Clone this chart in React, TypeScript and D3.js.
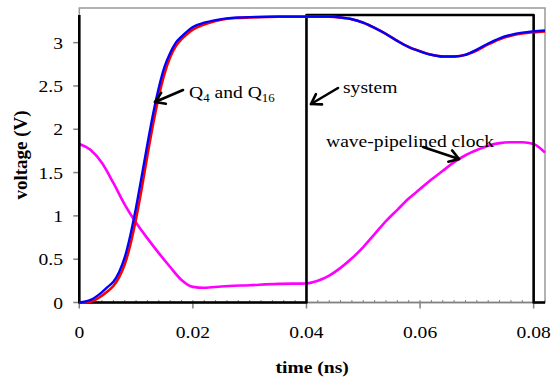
import React from "react";
import * as d3 from "d3";

const tQ = [0, 0.002, 0.004, 0.005, 0.006, 0.007, 0.008, 0.009, 0.010, 0.011, 0.012, 0.013, 0.014, 0.015, 0.016, 0.017, 0.018, 0.019, 0.020, 0.022, 0.024, 0.026, 0.028, 0.030, 0.035, 0.040, 0.044, 0.046, 0.048, 0.050, 0.052, 0.054, 0.056, 0.058, 0.060, 0.062, 0.064, 0.066, 0.068, 0.070, 0.072, 0.074, 0.076, 0.078, 0.080, 0.082];
const q16 = [0, 0.03, 0.12, 0.18, 0.24, 0.35, 0.52, 0.78, 1.10, 1.46, 1.83, 2.18, 2.48, 2.72, 2.88, 3.00, 3.07, 3.13, 3.18, 3.23, 3.26, 3.28, 3.29, 3.295, 3.30, 3.30, 3.30, 3.29, 3.27, 3.23, 3.17, 3.10, 3.02, 2.95, 2.90, 2.86, 2.84, 2.84, 2.86, 2.92, 2.99, 3.05, 3.09, 3.115, 3.13, 3.14];
const q4 = [0, 0.01, 0.08, 0.13, 0.19, 0.29, 0.44, 0.67, 0.97, 1.32, 1.70, 2.06, 2.38, 2.64, 2.83, 2.96, 3.04, 3.10, 3.15, 3.21, 3.25, 3.275, 3.285, 3.29, 3.30, 3.30, 3.30, 3.29, 3.27, 3.23, 3.17, 3.10, 3.02, 2.95, 2.90, 2.86, 2.84, 2.84, 2.86, 2.91, 2.98, 3.04, 3.08, 3.105, 3.12, 3.13];

const tClk = [0, 0.002, 0.004, 0.006, 0.008, 0.010, 0.012, 0.014, 0.016, 0.018, 0.020, 0.022, 0.025, 0.030, 0.035, 0.040, 0.042, 0.044, 0.046, 0.048, 0.050, 0.052, 0.054, 0.056, 0.058, 0.060, 0.062, 0.064, 0.066, 0.068, 0.070, 0.072, 0.074, 0.076, 0.078, 0.080, 0.081, 0.082];
const clk = [1.83, 1.76, 1.61, 1.38, 1.13, 0.92, 0.74, 0.57, 0.41, 0.26, 0.18, 0.17, 0.185, 0.20, 0.215, 0.22, 0.25, 0.31, 0.40, 0.51, 0.64, 0.79, 0.94, 1.07, 1.20, 1.31, 1.42, 1.52, 1.62, 1.70, 1.76, 1.81, 1.84, 1.85, 1.85, 1.83, 1.79, 1.73];

const tSys = [0, 0, 0.04, 0.04, 0.08, 0.08, 0.082];
const sys = [3.32, 0, 0, 3.32, 3.32, 0, 0];

const xTicks = [0, 0.02, 0.04, 0.06, 0.08];
const xTickLabels = ["0", "0.02", "0.04", "0.06", "0.08"];
const yTicks = [0, 0.5, 1, 1.5, 2, 2.5, 3];
const yTickLabels = ["0", "0.5", "1", "1.5", "2", "2.5", "3"];

const W = 552, H = 379;
const L = 79.3, R = 545, T = 8, B = 302.5;
const SX = 1.12;
const FONT = "'Liberation Serif', 'Times New Roman', serif";

function Txt({ x, y, anchor = "start", size = 17.5, bold = false, children }: any) {
  return (
    <text transform={`translate(${x},${y}) scale(${SX},1)`} textAnchor={anchor} fontSize={size}
      fontWeight={bold ? "bold" : "normal"} fontFamily={FONT} fill="#000">{children}</text>
  );
}

function Arrow({ x1, y1, x2, y2 }: any) {
  const a = Math.atan2(y2 - y1, x2 - x1);
  const len = 11, ang = Math.PI / 5.5;
  const p1 = [x2 - len * Math.cos(a - ang), y2 - len * Math.sin(a - ang)];
  const p2 = [x2 - len * Math.cos(a + ang), y2 - len * Math.sin(a + ang)];
  return (
    <g stroke="#000" strokeWidth={2.6} fill="none" strokeLinecap="round" strokeLinejoin="round">
      <line x1={x1} y1={y1} x2={x2} y2={y2} />
      <polyline points={`${p1[0]},${p1[1]} ${x2},${y2} ${p2[0]},${p2[1]}`} />
    </g>
  );
}

export default function App() {
  const x = d3.scaleLinear().domain([0, 0.082]).range([L, R]);
  const y = d3.scaleLinear().domain([0, 3.4]).range([B, T]);
  const line = (ts: number[], vs: number[]) =>
    d3.line<number>().x((_, i) => x(ts[i])).y((v) => y(v)).curve(d3.curveMonotoneX)(vs) || "";
  const sysPath = d3.line<number>().x((_, i) => x(tSys[i])).y((v) => y(v))(sys) || "";
  const minor = d3.range(0, 0.0821, 0.002);

  return (
    <svg width={W} height={H} style={{ position: "absolute", left: 0, top: 0, background: "#fff" }}>
      <rect x={L} y={T} width={R - L} height={B - T} fill="none" stroke="#999" strokeWidth={1.5} />
      <line x1={L} y1={B} x2={R} y2={B} stroke="#808080" strokeWidth={1.5} />
      {minor.map((t, i) => (
        <line key={"m" + i} x1={x(t)} x2={x(t)} y1={B} y2={B - 2.5} stroke="#808080" strokeWidth={1} />
      ))}
      {xTicks.map((t, i) => (
        <g key={"x" + i}>
          <line x1={x(t)} x2={x(t)} y1={B} y2={B + 6} stroke="#808080" strokeWidth={1.5} />
          <Txt x={x(t)} y={338} anchor="middle">{xTickLabels[i]}</Txt>
        </g>
      ))}
      {yTicks.map((v, i) => (
        <g key={"y" + i}>
          <line x1={L - 6} x2={L} y1={y(v)} y2={y(v)} stroke="#808080" strokeWidth={1.5} />
          <Txt x={63} y={y(v) + 6} anchor="end">{yTickLabels[i]}</Txt>
        </g>
      ))}
      <path d={line(tClk, clk)} fill="none" stroke="#ff00ff" strokeWidth={2.6} />
      <path d={sysPath} fill="none" stroke="#000" strokeWidth={2.6} strokeLinejoin="round" />
      <path d={line(tQ, q4)} fill="none" stroke="#ff0000" strokeWidth={2.6} />
      <path d={line(tQ, q16)} fill="none" stroke="#0000ff" strokeWidth={2.4} />
      <Arrow x1={183} y1={90} x2={155} y2={102} />
      <text transform={`translate(189,98) scale(${SX},1)`} fontSize={17.5} fontFamily={FONT}>
        Q<tspan fontSize={11.5} dy={4}>4</tspan><tspan dy={-4}> and Q</tspan><tspan fontSize={11.5} dy={4}>16</tspan>
      </text>
      <Arrow x1={338} y1={88} x2={311} y2={104} />
      <Txt x={343} y={93}>system</Txt>
      <Txt x={326} y={147}>wave-pipelined clock</Txt>
      <Arrow x1={423} y1={147} x2={459} y2={159} />
      <Txt x={(L + R) / 2} y={373} anchor="middle" bold size={17.5}>time (ns)</Txt>
      <text transform={`translate(27,155) rotate(-90)`} textAnchor="middle" fontSize={19}
        fontWeight="bold" fontFamily={FONT}>voltage (V)</text>
    </svg>
  );
}
